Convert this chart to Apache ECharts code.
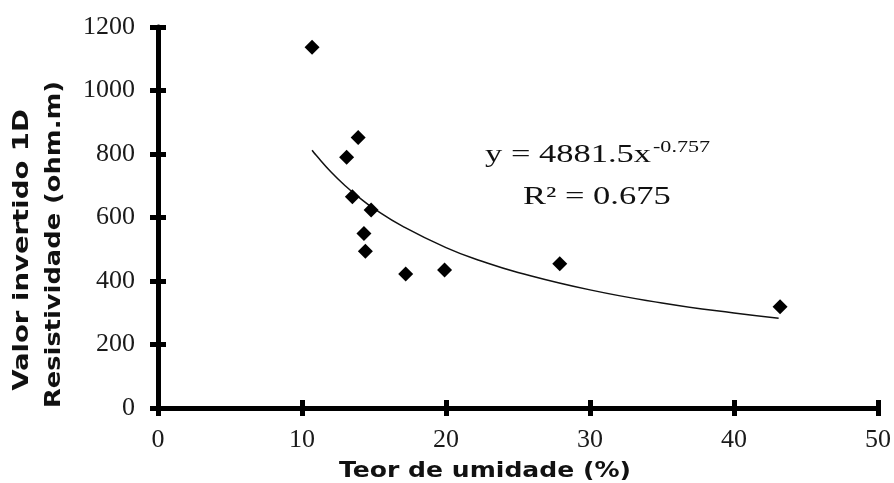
<!DOCTYPE html>
<html>
<head>
<meta charset="utf-8">
<script src="https://cdn.jsdelivr.net/npm/echarts@6/dist/echarts.min.js"></script>
<style>
  html, body { margin: 0; padding: 0; background: #fff; }
  #chart { width: 894px; height: 483px; }
</style>
</head>
<body>
<div id="chart"></div>
<script>
// dados
let umidade = [10.7, 13.1, 13.5, 13.9, 14.3, 14.4, 14.8, 17.2, 19.9, 27.9, 43.2];
let resistividade = [1136, 790, 665, 852, 550, 494, 624, 422, 435, 454, 319];

// curva de tendencia (potencia)
let trendX = [10.7, 11, 12, 13, 14, 15, 17, 20, 22.5, 25, 30, 35, 40, 43.1];
let trendY = [812, 795, 744, 700, 662, 628, 572, 505, 462, 427, 372, 331, 299, 283];

let xTicks = [0, 10, 20, 30, 40, 50];
let yTicks = [0, 200, 400, 600, 800, 1000, 1200];

let eqText = 'y = 4881.5x';
let eqExp = '-0.757';
let r2Text = 'R\u00B2 = 0.675';

let chart = echarts.init(document.getElementById('chart'));

let axisStyle = {color: '#000', width: 5};
let serif = 'Liberation Serif';
let sans = 'DejaVu Sans';

// eixo principal + eixo "fantasma" so para os ticks do lado de dentro
function xAxisDef(inside) {
    return {
        type: 'value', min: xTicks[0], max: xTicks[xTicks.length - 1], interval: 10,
        position: 'bottom',
        axisLine: {show: !inside, lineStyle: axisStyle},
        axisTick: {show: true, inside: inside, length: 8, lineStyle: axisStyle},
        axisLabel: {show: !inside, color: '#1a1a1a', fontFamily: serif, fontSize: 26, margin: 19,
                    formatter: function (v) { return String(v); }},
        splitLine: {show: false}
    };
}
function yAxisDef(inside) {
    return {
        type: 'value', min: yTicks[0], max: yTicks[yTicks.length - 1], interval: 200,
        position: 'left',
        axisLine: {show: !inside, lineStyle: axisStyle},
        axisTick: {show: true, inside: inside, length: 8, lineStyle: axisStyle},
        axisLabel: {show: !inside, color: '#1a1a1a', fontFamily: serif, fontSize: 26, margin: 23,
                    formatter: function (v) { return String(v); }},
        splitLine: {show: false}
    };
}

let pontos = umidade.map(function (x, i) { return [x, resistividade[i]]; });
let curva = trendX.map(function (x, i) { return [x, trendY[i]]; });

function txt(text, x, y, size, family, scaleX, opts) {
    let el = {
        type: 'text', x: x, y: y, scaleX: scaleX,
        style: {text: text, fontSize: size, fontFamily: family, fill: '#111',
                align: 'left', verticalAlign: 'middle'}
    };
    if (opts) {
        if (opts.bold) el.style.fontWeight = 'bold';
        if (opts.center) el.style.align = 'center';
        if (opts.rotation) el.rotation = opts.rotation;
    }
    return el;
}

chart.setOption({
    backgroundColor: '#fff',
    animation: false,
    grid: {left: 158, right: 16, top: 27, bottom: 75},
    xAxis: [xAxisDef(false), xAxisDef(true)],
    yAxis: [yAxisDef(false), yAxisDef(true)],
    series: [
        {
            type: 'line',
            data: curva,
            smooth: true,
            showSymbol: false,
            lineStyle: {color: '#111', width: 1.5},
            z: 2
        },
        {
            type: 'scatter',
            data: pontos,
            symbol: 'diamond',
            symbolSize: 15,
            itemStyle: {color: '#000', opacity: 1},
            z: 3
        }
    ],
    graphic: [
        txt(eqText, 485, 155, 25, serif, 1.38),
        txt(eqExp, 653, 148, 17, serif, 1.3),
        txt(r2Text, 523, 197, 25, serif, 1.38),
        txt('Teor de umidade (%)', 485, 471, 22, sans, 1.14, {bold: true, center: true}),
        txt('Valor invertido 1D', 22, 250, 22, sans, 1.25, {bold: true, center: true, rotation: Math.PI / 2}),
        txt('Resistividade (ohm.m)', 54, 244.5, 22, sans, 1.17, {bold: true, center: true, rotation: Math.PI / 2})
    ]
});
</script>
</body>
</html>
